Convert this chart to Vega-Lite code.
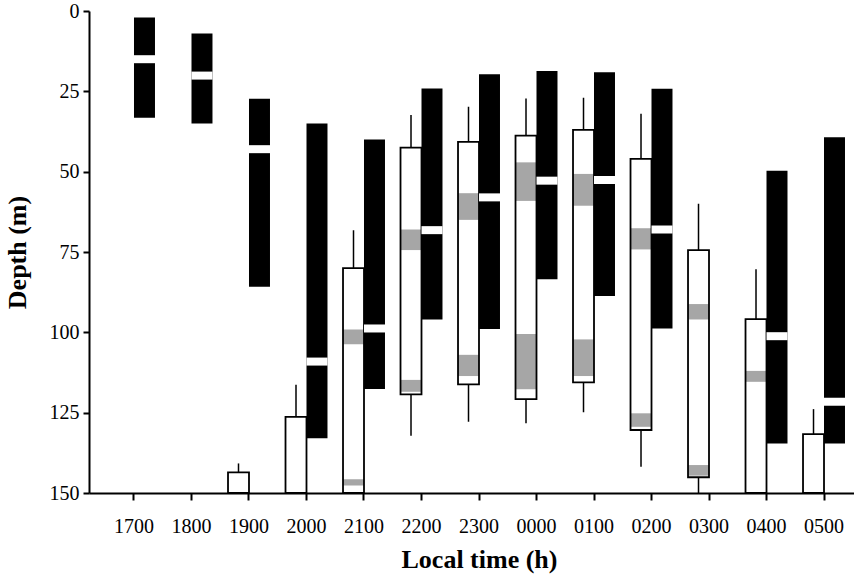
{
  "$schema": "https://vega.github.io/schema/vega-lite/v6.json",
  "width": 765,
  "height": 482,
  "autosize": "none",
  "padding": {"left": 89, "top": 11, "right": 0, "bottom": 84},
  "background": "white",
  "datasets": {
    "boxes": [
      {"time": "1900", "wTop": 140.8, "boxTop": 143.6, "boxBot": 150, "wBot": 150},
      {"time": "2000", "wTop": 116.3, "boxTop": 126.3, "boxBot": 150, "wBot": 150},
      {"time": "2100", "wTop": 68.2, "boxTop": 80, "boxBot": 150, "wBot": 150},
      {"time": "2200", "wTop": 32.4, "boxTop": 42.5, "boxBot": 119.3, "wBot": 132.2},
      {"time": "2300", "wTop": 29.8, "boxTop": 40.7, "boxBot": 116.2, "wBot": 127.8},
      {"time": "0000", "wTop": 27.2, "boxTop": 38.8, "boxBot": 120.8, "wBot": 128.3},
      {"time": "0100", "wTop": 27, "boxTop": 37, "boxBot": 115.6, "wBot": 124.9},
      {"time": "0200", "wTop": 32, "boxTop": 46, "boxBot": 130.4, "wBot": 141.8},
      {"time": "0300", "wTop": 60, "boxTop": 74.4, "boxBot": 145.1, "wBot": 150},
      {"time": "0400", "wTop": 80.4, "boxTop": 95.9, "boxBot": 150, "wBot": 150},
      {"time": "0500", "wTop": 123.9, "boxTop": 131.7, "boxBot": 150, "wBot": 150}
    ],
    "stipples": [
      {"time": "2100", "sTop": 99.1, "sBot": 103.7},
      {"time": "2100", "sTop": 145.7, "sBot": 147.7},
      {"time": "2200", "sTop": 68, "sBot": 74.4},
      {"time": "2200", "sTop": 114.8, "sBot": 118.5},
      {"time": "2300", "sTop": 56.7, "sBot": 65},
      {"time": "2300", "sTop": 107, "sBot": 113.6},
      {"time": "0000", "sTop": 47.1, "sBot": 59.1},
      {"time": "0000", "sTop": 100.5, "sBot": 117.7},
      {"time": "0100", "sTop": 50.7, "sBot": 60.6},
      {"time": "0100", "sTop": 102.2, "sBot": 113.6},
      {"time": "0200", "sTop": 67.6, "sBot": 74.2},
      {"time": "0200", "sTop": 125.2, "sBot": 129.4},
      {"time": "0300", "sTop": 91.2, "sBot": 96},
      {"time": "0300", "sTop": 141.3, "sBot": 144.6},
      {"time": "0400", "sTop": 112, "sBot": 115.4}
    ],
    "bars": [
      {"time": "1700", "barTop": 2, "barBot": 33.2, "mean": 15},
      {"time": "1800", "barTop": 7, "barBot": 35, "mean": 20.1},
      {"time": "1900", "barTop": 27.3, "barBot": 85.8, "mean": 43},
      {"time": "2000", "barTop": 35, "barBot": 133, "mean": 109.1},
      {"time": "2100", "barTop": 40, "barBot": 117.6, "mean": 98.8},
      {"time": "2200", "barTop": 24.1, "barBot": 96, "mean": 68.2},
      {"time": "2300", "barTop": 19.7, "barBot": 99, "mean": 58},
      {"time": "0000", "barTop": 18.7, "barBot": 83.5, "mean": 52.8},
      {"time": "0100", "barTop": 19.1, "barBot": 88.7, "mean": 52.6},
      {"time": "0200", "barTop": 24.2, "barBot": 98.8, "mean": 68},
      {"time": "0400", "barTop": 49.7, "barBot": 134.6, "mean": 101.2},
      {"time": "0500", "barTop": 39.3, "barBot": 134.6, "mean": 121.6}
    ]
  },
  "encoding": {
    "x": {
      "field": "time",
      "type": "nominal",
      "title": "Local time (h)",
      "scale": {
        "domain": ["1700", "1800", "1900", "2000", "2100", "2200", "2300", "0000", "0100", "0200", "0300", "0400", "0500"],
        "range": [0, 780],
        "paddingInner": 0.27,
        "paddingOuter": 0.4175
      }
    }
  },
  "layer": [
    {
      "data": {"name": "boxes"},
      "mark": {"type": "rule", "color": "black", "strokeWidth": 1.5},
      "encoding": {
        "xOffset": {"datum": "W", "scale": {"domain": ["W", "B"], "paddingInner": 0, "paddingOuter": 0}},
        "y": {
          "field": "wTop",
          "type": "quantitative",
          "title": "Depth (m)",
          "scale": {"domain": [0, 150], "reverse": true, "nice": false},
          "axis": {"values": [0, 25, 50, 75, 100, 125, 150]}
        },
        "y2": {"field": "wBot"}
      }
    },
    {
      "data": {"name": "boxes"},
      "mark": {"type": "bar", "fill": "white", "stroke": null},
      "encoding": {
        "xOffset": {"datum": "W"},
        "y": {"field": "boxTop", "type": "quantitative", "title": "Depth (m)"},
        "y2": {"field": "boxBot"}
      }
    },
    {
      "data": {"name": "stipples"},
      "mark": {"type": "bar", "fill": "#a6a6a6", "stroke": null},
      "encoding": {
        "xOffset": {"datum": "W"},
        "y": {"field": "sTop", "type": "quantitative", "title": "Depth (m)"},
        "y2": {"field": "sBot"}
      }
    },
    {
      "data": {"name": "boxes"},
      "mark": {"type": "bar", "fill": null, "fillOpacity": 0, "stroke": "black", "strokeWidth": 1.8},
      "encoding": {
        "xOffset": {"datum": "W"},
        "y": {"field": "boxTop", "type": "quantitative", "title": "Depth (m)"},
        "y2": {"field": "boxBot"}
      }
    },
    {
      "data": {"name": "bars"},
      "mark": {"type": "bar", "fill": "black", "stroke": null},
      "encoding": {
        "xOffset": {"datum": "B"},
        "y": {"field": "barTop", "type": "quantitative", "title": "Depth (m)"},
        "y2": {"field": "barBot"}
      }
    },
    {
      "data": {"name": "bars"},
      "mark": {"type": "tick", "color": "white", "thickness": 8, "size": 21, "opacity": 1},
      "encoding": {
        "xOffset": {"datum": "B"},
        "y": {"field": "mean", "type": "quantitative", "title": "Depth (m)"}
      }
    }
  ],
  "config": {
    "view": {"stroke": null},
    "axis": {
      "labelFont": "Liberation Serif",
      "labelFontSize": 20,
      "labelColor": "black",
      "titleFont": "Liberation Serif",
      "titleFontSize": 26,
      "titleFontWeight": "bold",
      "titleColor": "black",
      "domainColor": "black",
      "domainWidth": 2,
      "tickColor": "black",
      "tickWidth": 2,
      "grid": false
    },
    "axisX": {"tickSize": 7, "labelPadding": 16, "titlePadding": 10, "labelAngle": 0},
    "axisY": {"tickSize": 6, "labelPadding": 4, "titlePadding": 19}
  }
}
